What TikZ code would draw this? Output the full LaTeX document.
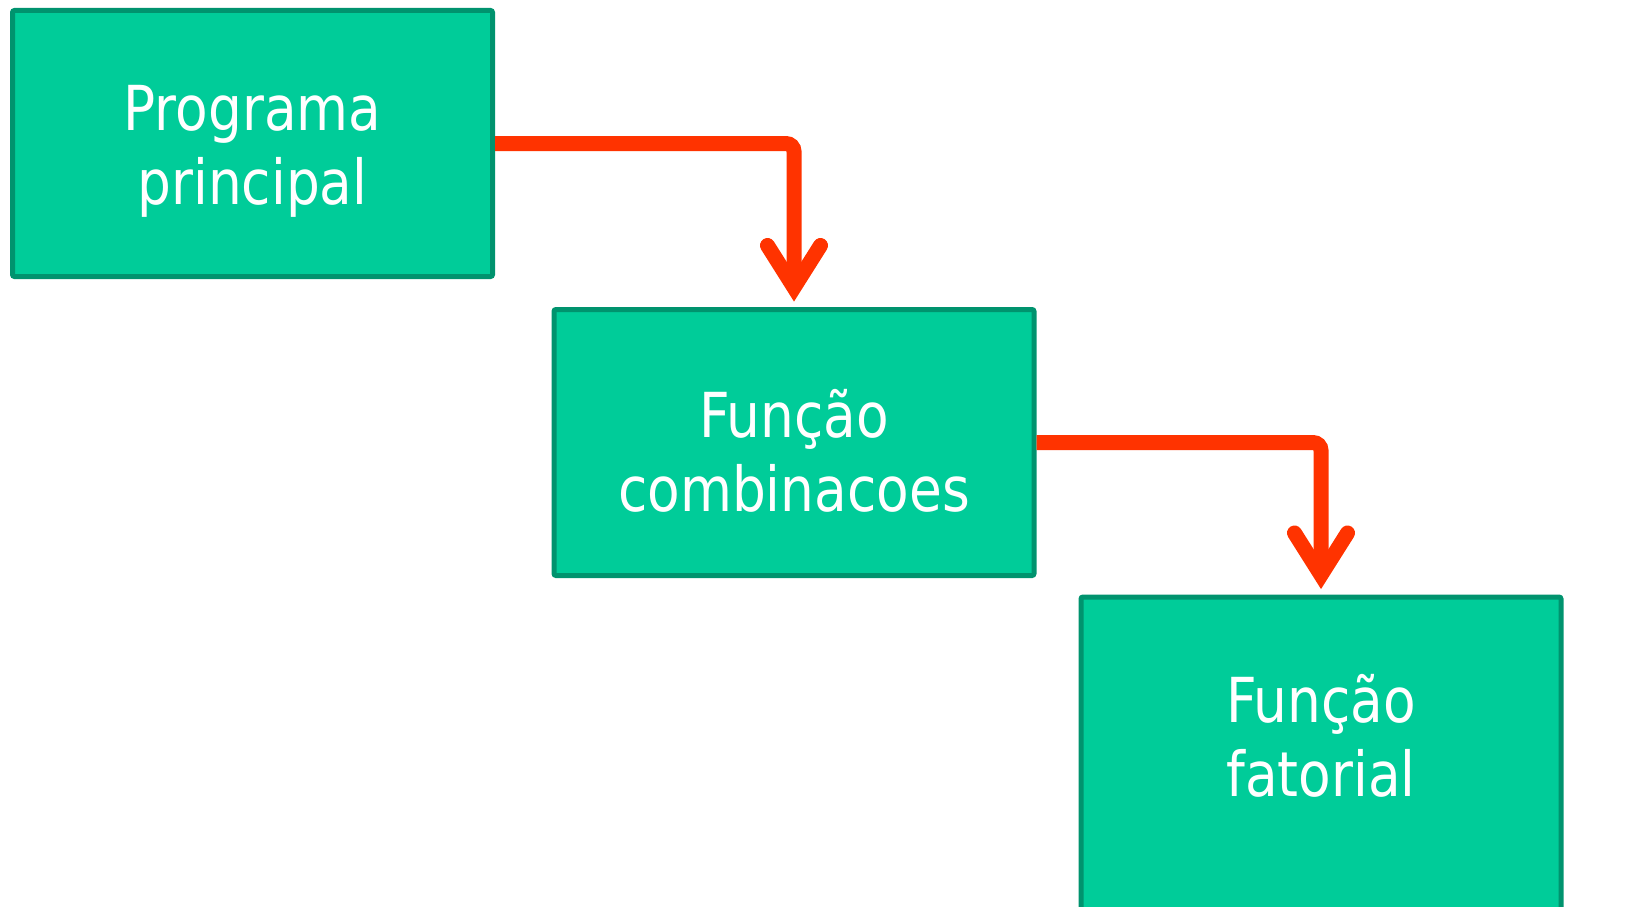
\documentclass[tikz,border=0pt]{standalone}
\usepackage{fontspec}
\setmainfont{DejaVu Sans}[FakeStretch=0.86]
\usetikzlibrary{calc}
\definecolor{boxfill}{HTML}{00CC99}
\definecolor{boxline}{HTML}{00936E}
\definecolor{arrowred}{HTML}{FF3300}
\tikzset{
  blockbox/.style={draw=boxline, fill=boxfill, line width=5pt, rounded corners=2pt, minimum width=480pt, minimum height=266pt, inner sep=0pt},
  boxtext/.style={inner sep=0pt, align=center, text=white, font=\fontsize{62}{74}\selectfont},
  link/.style={draw=arrowred, line width=15pt, rounded corners=8pt},
  chev/.style={draw=arrowred, line width=15pt, line cap=round, line join=miter}
}
\begin{document}
\begin{tikzpicture}[x=1pt,y=-1pt]
\useasboundingbox (0,0) rectangle (1651,907);
\clip (0,0) rectangle (1651,907);
\node[blockbox] (p) at (252.5,143.5) {};
\node[blockbox] (c) at (794,442.5) {};
\node[blockbox, minimum height=400pt, anchor=north] (f) at (1321,594.5) {};
\node[boxtext] (pt) at ($(p.center)+(0,8)$) {Programa\\principal};
\node[boxtext] (ct) at ($(c.center)+(0,8)$) {Função\\combinacoes};
\node[boxtext] (ft) at ($(f.north)+(0,141)$) {Função\\fatorial};
\coordinate (t1) at ($(c.north)+(0,-19.5)$);
\coordinate (t2) at ($(f.north)+(0,-19.5)$);
\draw[link] (p.east) -| (t1);
\draw[chev] ($(t1)+(-26.5,-42)$) -- (t1) -- ($(t1)+(26.5,-42)$);
\draw[link] (c.east) -| (t2);
\draw[chev] ($(t2)+(-26.5,-42)$) -- (t2) -- ($(t2)+(26.5,-42)$);
\end{tikzpicture}
\end{document}
